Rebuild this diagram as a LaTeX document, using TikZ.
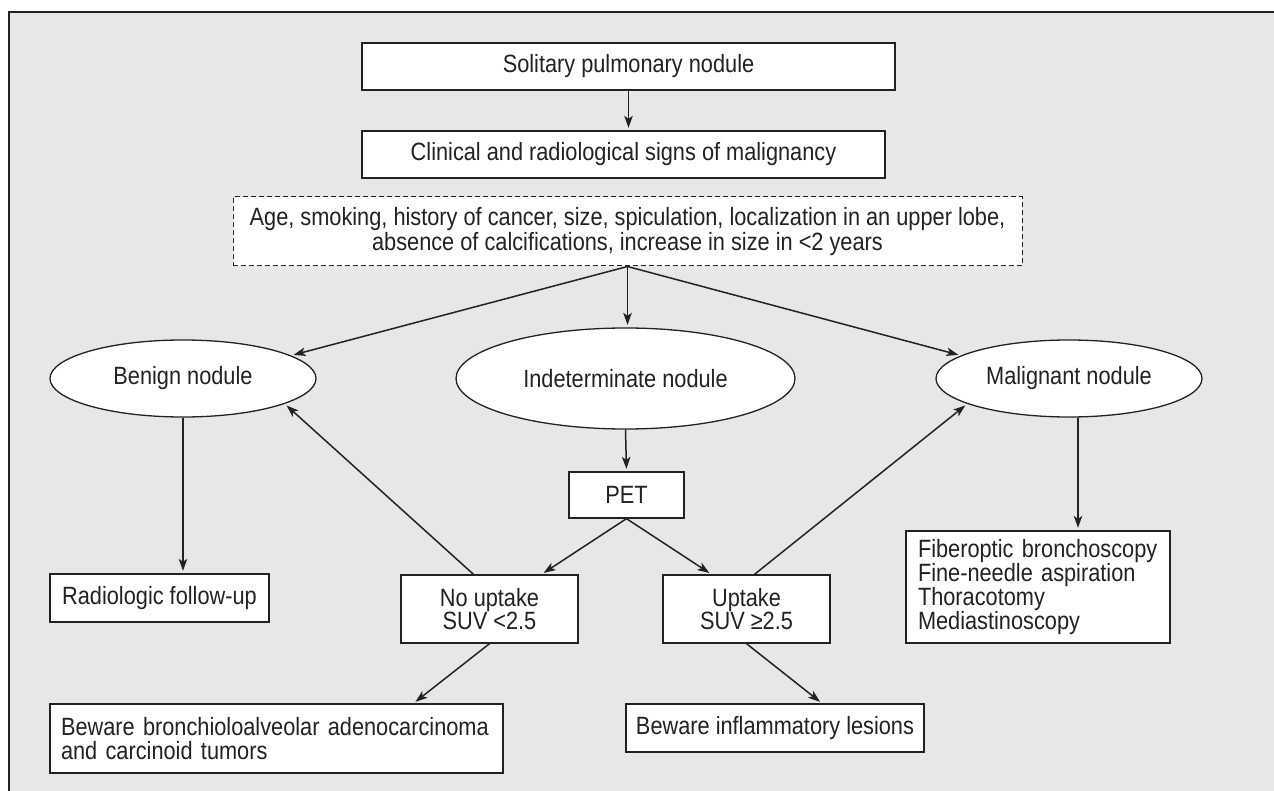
\documentclass[tikz,border=0pt]{standalone}
\usepackage{fontspec}
\setmainfont{Liberation Sans}[FakeStretch=0.87]
\usetikzlibrary{shapes.geometric,arrows.meta}
\definecolor{panel}{HTML}{E6E7E9}
\definecolor{ink}{HTML}{222222}

\tikzset{
  flow/.style={
    every node/.style={font=\fontsize{25}{22}\selectfont,text=ink},
  }
}

\begin{document}
\begin{tikzpicture}[x=1pt, y=-1pt, flow]
            \tikzstyle{box}=[draw=ink,line width=1.3pt,fill=white,inner sep=0pt]
            \tikzstyle{oval}=[box,ellipse]
            \tikzstyle{listbox}=[box,align=left,inner xsep=11pt]
            \tikzstyle{link}=[-{Stealth[length=12pt,width=8.5pt,inset=3pt]},line width=1.5pt,draw=ink,shorten >=2.5pt]

            \useasboundingbox (0,0) rectangle (1274,791);
            \fill[panel] (9,12) rectangle (1274,791);
            \draw[line width=1.5pt,draw=ink] (9,791) -- (9,12) -- (1274,12);

            \node[box,minimum width=533pt,minimum height=47pt] (S) at (628.5,66.5) {Solitary pulmonary nodule};
            \node[box,minimum width=523pt,minimum height=47pt] (C) at (623.5,154.5) {Clinical and radiological signs of malignancy};
            \node[box,dashed,dash pattern=on 5pt off 3pt,line width=1pt,minimum width=789pt,minimum height=69pt,align=center] (R) at (627.5,231.5)
                {Age, smoking, history of cancer, size, spiculation, localization in an upper lobe,\\absence of calcifications, increase in size in <2 years};

            \node[oval,minimum width=266pt,minimum height=77pt] (B) at (183,378.5) {Benign nodule};
            \node[oval,minimum width=339pt,minimum height=101pt] (I) at (625.5,378.5) {Indeterminate nodule};
            \node[oval,minimum width=266pt,minimum height=77pt] (M) at (1069,378.5) {Malignant nodule};

            \node[box,minimum width=115pt,minimum height=46pt] (P) at (626.5,495) {PET};
            \node[box,minimum width=177pt,minimum height=68pt,align=center] (N) at (489.5,609) {No uptake\\SUV <2.5};
            \node[box,minimum width=167pt,minimum height=68pt,align=center] (U) at (746.5,609) {Uptake\\SUV ≥2.5};

            \node[box,minimum width=219pt,minimum height=48pt] (Rd) at (159.5,598) {Radiologic follow-up};
            \node[listbox,font=\fontsize{25}{24}\selectfont,text width=431pt,minimum height=69pt] (W1) at (276.5,738.5) {Beware bronchioloalveolar adenocarcinoma\\and carcinoid tumors};
            \node[box,minimum width=298pt,minimum height=48pt] (W2) at (775,728) {Beware inflammatory lesions};
            \node[listbox,inner xsep=12pt,text width=240pt,minimum height=112pt] (F) at (1038,587)
                {Fiberoptic bronchoscopy\\Fine-needle aspiration\\Thoracotomy\\Mediastinoscopy};

            \draw[link] (S.south) -- (S.south |- C.north);
            \draw[link] (R.south) -- (B.12);
            \draw[link] (R.south) -- (R.south |- I.north);
            \draw[link] (R.south) -- (M.168);
            \draw[link] (I.south) -- (P.north);
            \draw[link] (P.south) -- ([xshift=52pt]N.north);
            \draw[link] (P.south) -- ([xshift=-35pt]U.north);
            \draw[link] ([xshift=-16pt]N.north) -- (B.-14);
            \draw[link] ([xshift=8pt]U.north) -- (M.-166);
            \draw[link] (N.south) -- ([xshift=137pt]W1.north);
            \draw[link] (U.south) -- ([xshift=47pt]W2.north);
            \draw[link] (B.south) -- (B.south |- Rd.north);
            \draw[link] ([xshift=9pt]M.south) -- ([xshift=40pt]F.north);

        \end{tikzpicture}
\end{document}
